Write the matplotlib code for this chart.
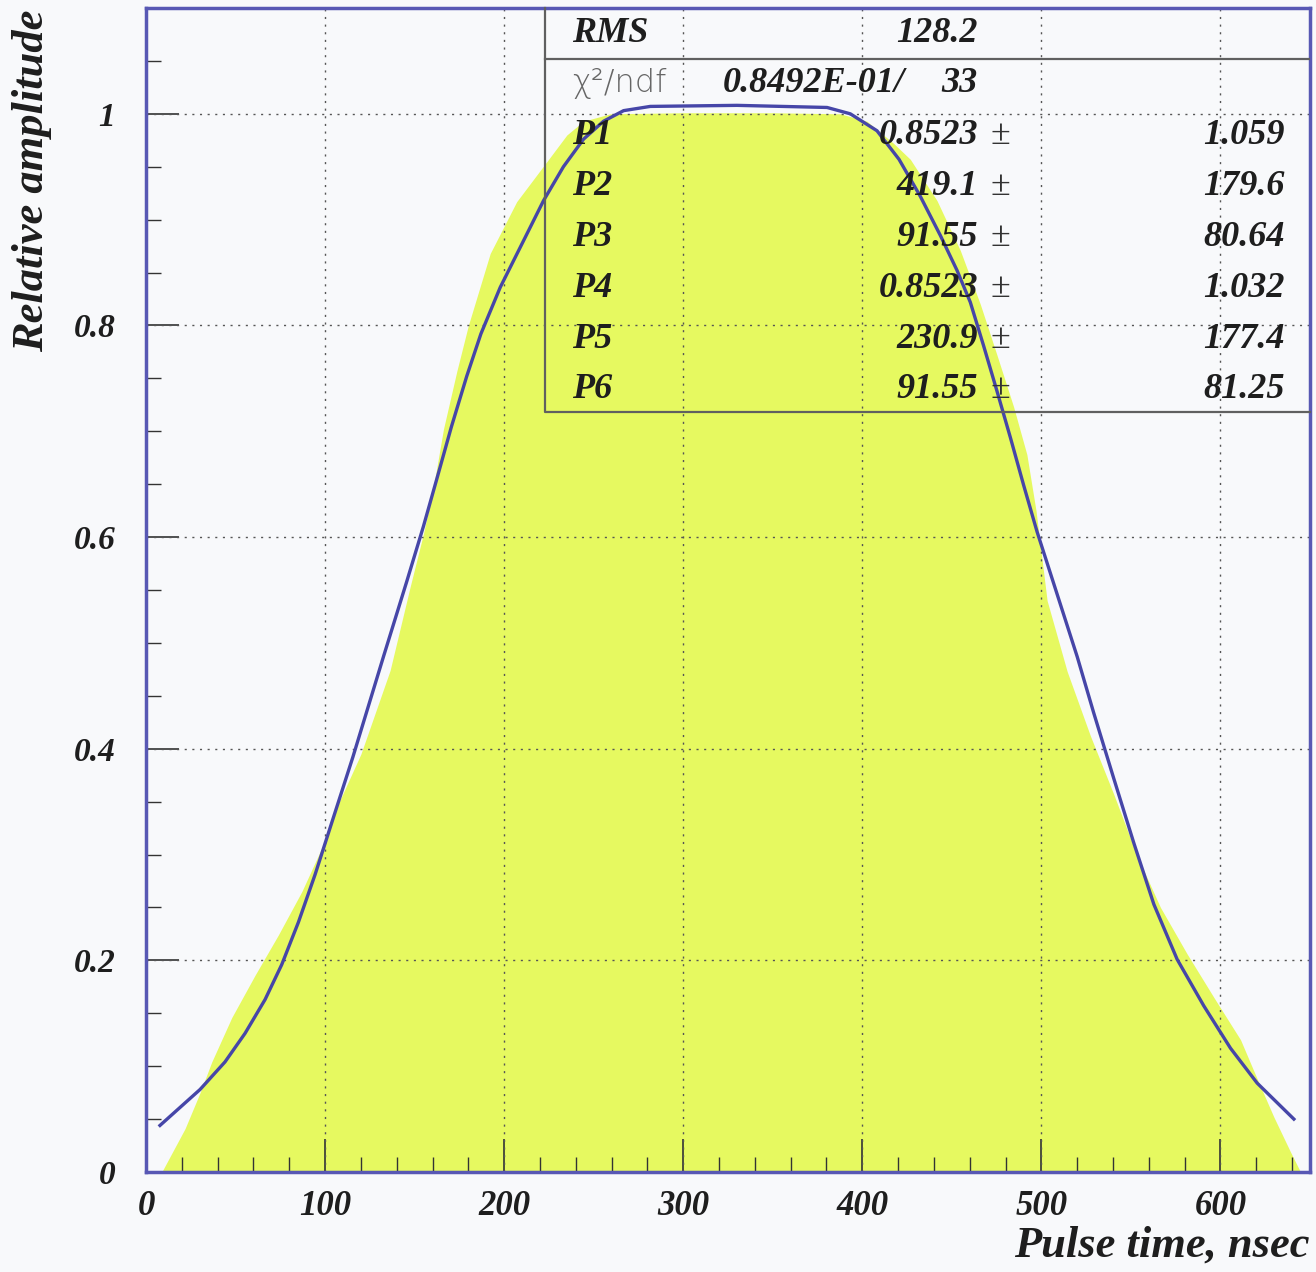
import matplotlib
matplotlib.use("Agg")
import matplotlib.pyplot as plt
from matplotlib.ticker import MultipleLocator, FixedLocator

# ---- data ----
# yellow filled pulse shape (outline)
fill_x = [8.8, 21.8, 30.2, 36.7, 47.9, 60.9, 73.9, 87.0, 100.0, 107.4, 120.0,
          136.3, 147.5, 154.9, 160.5, 166.1, 173.6, 180.0, 192.2, 207.0, 225.7,
          235.0, 244.3, 259.2, 300.0, 350.0, 387.7, 402.6, 417.5, 426.8, 441.7,
          454.7, 465.9, 475.2, 484.5, 491.9, 497.0, 503.2, 514.4, 527.4, 540.4,
          553.4, 566.5, 581.4, 596.3, 611.2, 620.5, 629.8, 639.1, 644.7]
fill_y = [0.0, 0.041, 0.075, 0.104, 0.146, 0.186, 0.224, 0.265, 0.313, 0.348, 0.395,
          0.474, 0.553, 0.603, 0.647, 0.702, 0.757, 0.800, 0.868, 0.917, 0.959,
          0.980, 0.993, 1.000, 1.001, 1.001, 1.000, 0.993, 0.972, 0.957, 0.918,
          0.871, 0.820, 0.772, 0.723, 0.678, 0.625, 0.540, 0.473, 0.412, 0.357,
          0.299, 0.250, 0.206, 0.165, 0.125, 0.088, 0.052, 0.019, 0.0]

# blue fit curve
fit_x = [7.8, 30.2, 44.1, 55.3, 66.5, 75.8, 85.1, 94.4, 103.7, 115.5, 132.6,
         145.6, 154.9, 162.4, 170.5, 179.1, 187.0, 197.8, 210.8, 222.0, 233.1,
         244.3, 255.5, 266.7, 281.6, 330.0, 380.3, 393.3, 408.2, 420.5, 432.4,
         443.6, 452.9, 460.3, 467.7, 475.2, 482.7, 490.1, 497.6, 508.8, 520.0,
         529.2, 540.4, 551.6, 562.8, 575.8, 590.7, 605.6, 620.5, 641.0]
fit_y = [0.044, 0.078, 0.104, 0.131, 0.163, 0.196, 0.236, 0.281, 0.330, 0.392, 0.487,
         0.558, 0.610, 0.655, 0.704, 0.752, 0.792, 0.836, 0.880, 0.918, 0.950,
         0.976, 0.993, 1.003, 1.007, 1.008, 1.006, 1.000, 0.984, 0.957, 0.922,
         0.885, 0.852, 0.822, 0.781, 0.738, 0.694, 0.649, 0.605, 0.546, 0.487,
         0.434, 0.372, 0.311, 0.253, 0.201, 0.157, 0.117, 0.084, 0.050]

xticks = [0, 100, 200, 300, 400, 500, 600]
yticks = [0, 0.2, 0.4, 0.6, 0.8, 1.0]
ytick_labels = ["0", "0.2", "0.4", "0.6", "0.8", "1"]

stat_labels = ["P1", "P2", "P3", "P4", "P5", "P6"]
stat_values = ["0.8523", "419.1", "91.55", "0.8523", "230.9", "91.55"]
stat_errors = ["1.059", "179.6", "80.64", "1.032", "177.4", "81.25"]
rms_value = "128.2"
chi2_value = "0.8492E-01/"
ndf_value = "33"

# ---- style ----
BG = "#f8f9fb"
YELLOW = "#e6f960"
BLUE = "#4646a8"
FRAME = "#5858b4"
INK = "#1e1e1e"
SERIF = dict(family="Liberation Serif", weight="bold", style="italic")

fig = plt.figure(figsize=(13.16, 12.72), dpi=100, facecolor=BG)
ax = fig.add_axes([146 / 1316, 1 - 1172 / 1272, (1310 - 146) / 1316, (1172 - 8) / 1272])
ax.set_facecolor(BG)

ax.fill_between(fill_x, fill_y, 0, color=YELLOW, lw=0, zorder=1)
ax.plot(fit_x, fit_y, color=BLUE, lw=2.4, zorder=4, solid_joinstyle="round")

ax.set_xlim(0, 650)
ax.set_ylim(0, 1.1)

ax.xaxis.set_major_locator(FixedLocator(xticks))
ax.xaxis.set_minor_locator(MultipleLocator(20))
ax.yaxis.set_major_locator(FixedLocator(yticks))
ax.yaxis.set_minor_locator(MultipleLocator(0.05))
ax.set_yticklabels(ytick_labels)

ax.tick_params(which="both", direction="in", color="#333333", top=False, right=False)
ax.tick_params(which="major", length=24, width=1.2)
ax.tick_params(which="minor", length=11, width=1.0)
ax.tick_params(axis="x", which="major", pad=13, labelsize=25)
ax.tick_params(axis="y", which="major", pad=22, labelsize=24)
for lab in ax.get_xticklabels() + ax.get_yticklabels():
    lab.set_fontfamily("Liberation Serif")
    lab.set_fontweight("bold")
    lab.set_fontstyle("italic")
    lab.set_color(INK)

for g in xticks[1:]:
    ax.axvline(g, color="#555555", lw=1.0, ls=(0, (1.5, 4)), zorder=2)
for g in yticks[1:]:
    ax.axhline(g, color="#555555", lw=1.0, ls=(0, (1.5, 4)), zorder=2)

for s in ax.spines.values():
    s.set_color(FRAME)
    s.set_linewidth(2.5)

# ---- stats box (axes fraction coordinates) ----
bx0, by0 = (545 - 146) / 1164, 0.6525
ax.plot([bx0, bx0, 1.0], [1.0, by0, by0], transform=ax.transAxes, color="#606060",
        lw=1.6, zorder=5, clip_on=False)
ax.plot([bx0, 1.0], [0.956, 0.956], transform=ax.transAxes, color="#606060", lw=1.6, zorder=5)

row_y = [0.9778, 0.9348, 0.8902, 0.8464, 0.8026, 0.7589, 0.7151, 0.6722]
xl, xv, xpm, xe = 0.366, 0.7148, 0.7337, 0.9785
fs = 26
ax.text(xl, row_y[0], "RMS", transform=ax.transAxes, ha="left", va="center",
        fontsize=fs, color=INK, zorder=6, **SERIF)
ax.text(xv, row_y[0], rms_value, transform=ax.transAxes, ha="right", va="center",
        fontsize=fs, color=INK, zorder=6, **SERIF)
ax.text(xl, row_y[1], "χ²/ndf", transform=ax.transAxes, ha="left", va="center",
        fontsize=23, color="#666666", family="DejaVu Sans", weight="light", zorder=6)
ax.text((905 - 146) / 1164, row_y[1], chi2_value, transform=ax.transAxes, ha="right",
        va="center", fontsize=fs, color=INK, zorder=6, **SERIF)
ax.text(xv, row_y[1], ndf_value, transform=ax.transAxes, ha="right", va="center",
        fontsize=fs, color=INK, zorder=6, **SERIF)
for i, (lab, val, err) in enumerate(zip(stat_labels, stat_values, stat_errors)):
    y = row_y[i + 2]
    ax.text(xl, y, lab, transform=ax.transAxes, ha="left", va="center",
            fontsize=fs, color=INK, zorder=6, **SERIF)
    ax.text(xv, y, val, transform=ax.transAxes, ha="right", va="center",
            fontsize=fs, color=INK, zorder=6, **SERIF)
    ax.text(xpm, y, "±", transform=ax.transAxes, ha="center", va="center",
            fontsize=fs, color="#333333", family="Liberation Serif", zorder=6)
    ax.text(xe, y, err, transform=ax.transAxes, ha="right", va="center",
            fontsize=fs, color=INK, zorder=6, **SERIF)

# ---- axis titles ----
fig.text(32 / 1316, 1 - 10 / 1272, "Relative amplitude", rotation=90, ha="center", va="top",
         fontsize=32, color=INK, **SERIF)
fig.text(1310 / 1316, 1 - 1246 / 1272, "Pulse time, nsec", ha="right", va="center",
         fontsize=32, color=INK, **SERIF)

fig.savefig("out.png", dpi=100, facecolor=BG)
